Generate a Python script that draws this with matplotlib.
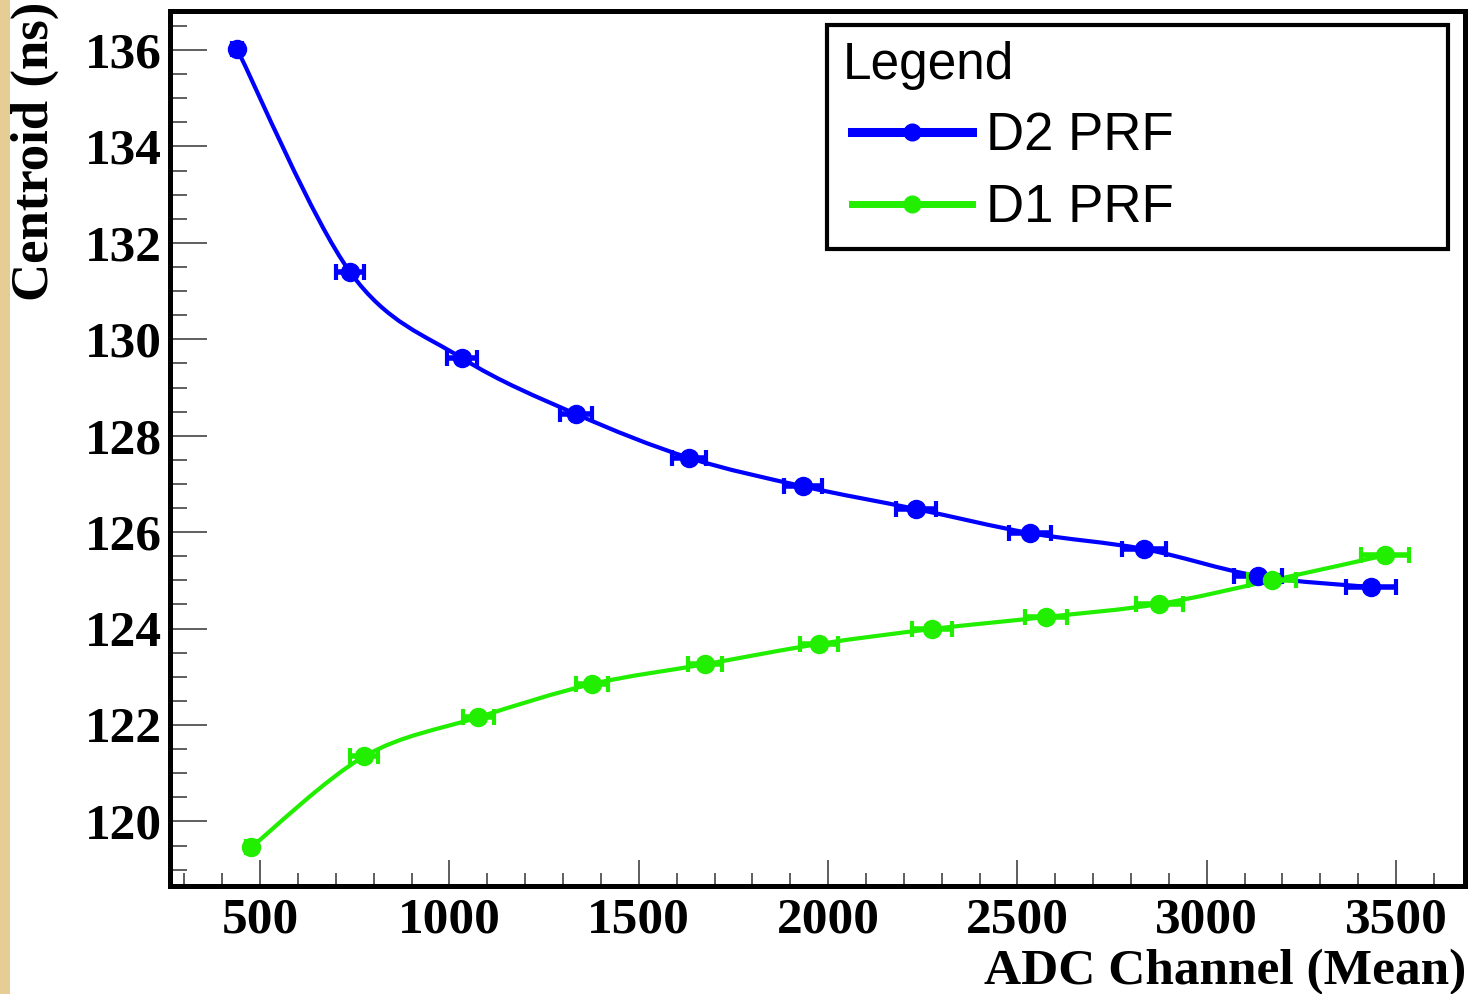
import numpy as np
import matplotlib
matplotlib.use('Agg')
import matplotlib.pyplot as plt
from matplotlib.path import Path
from matplotlib.patches import PathPatch, Rectangle
from matplotlib.ticker import MultipleLocator
from matplotlib.lines import Line2D
from matplotlib.legend_handler import HandlerLine2D

# D2 PRF (blue) and D1 PRF (green): mean ADC channel, centroid, x error
d2_adc = [439, 738, 1033, 1334, 1633, 1934, 2232, 2533, 2834, 3135, 3434]
d2_cen = [136.02, 131.39, 129.61, 128.45, 127.54, 126.95, 126.48, 125.98, 125.65, 125.09, 124.86]
d2_err = [14, 37, 40, 42, 45, 50, 53, 55, 58, 63, 65]

d1_adc = [476, 775, 1076, 1377, 1675, 1976, 2274, 2575, 2874, 3172, 3471]
d1_cen = [119.46, 121.35, 122.16, 122.85, 123.26, 123.68, 123.99, 124.24, 124.51, 125.00, 125.52]
d1_err = [14, 37, 41, 43, 46, 50, 53, 56, 62, 64, 63]

BLUE = '#0000ff'
GREEN = '#22ee00'
serif = ['Liberation Serif', 'DejaVu Serif']


def smooth_path(x, y):
    # Catmull-Rom curve through the points, drawn as cubic Bezier segments
    p = np.column_stack([x, y]).astype(float)
    verts = [p[0]]
    codes = [Path.MOVETO]
    n = len(p)
    for i in range(n - 1):
        p0 = p[i - 1] if i > 0 else p[i]
        p3 = p[i + 2] if i + 2 < n else p[i + 1]
        c1 = p[i] + (p[i + 1] - p0) / 6.0
        c2 = p[i + 1] - (p3 - p[i]) / 6.0
        verts += [c1, c2, p[i + 1]]
        codes += [Path.CURVE4] * 3
    return Path(verts, codes)


fig = plt.figure(figsize=(14.7, 9.94), dpi=100)
fig.patch.set_facecolor('white')
fig.patches.append(Rectangle((0, 0), 10 / 1470, 1, transform=fig.transFigure,
                             facecolor='#e6cd95', edgecolor='none', zorder=0))

ax = fig.add_axes([170 / 1470, 1 - 886 / 994, (1465 - 170) / 1470, (886 - 11) / 994])

for xs, ys, es, col in [(d2_adc, d2_cen, d2_err, BLUE),
                        (d1_adc, d1_cen, d1_err, GREEN)]:
    ax.add_patch(PathPatch(smooth_path(xs, ys), facecolor='none', edgecolor=col,
                           lw=3.0, zorder=2))
    ax.errorbar(xs, ys, xerr=es, fmt='o', color=col, ms=13, elinewidth=4,
                capsize=6, capthick=3, zorder=3)

ax.set_xlim(262, 3682)
ax.set_ylim(118.66, 136.81)

ax.xaxis.set_major_locator(MultipleLocator(500))
ax.xaxis.set_minor_locator(MultipleLocator(100))
ax.yaxis.set_major_locator(MultipleLocator(2))
ax.yaxis.set_minor_locator(MultipleLocator(0.5))

ax.tick_params(axis='both', which='both', direction='in', color='#333333', width=1.1)
ax.tick_params(axis='y', which='major', length=26.5, pad=6)
ax.tick_params(axis='y', which='minor', length=12.5)
ax.tick_params(axis='x', which='major', length=18.5, pad=8)
ax.tick_params(axis='x', which='minor', length=9.5)
for lbl in ax.get_xticklabels() + ax.get_yticklabels():
    lbl.set_family(serif)
    lbl.set_fontweight('bold')
    lbl.set_fontsize(37)

for sp in ax.spines.values():
    sp.set_linewidth(3.6)
    sp.set_color('black')

fig.text(1466 / 1470, 1 - 984 / 994, 'ADC Channel (Mean)', ha='right', va='baseline',
         family=serif, fontweight='bold', fontsize=37)
fig.text(35 / 1470, 1 - 2 / 994, 'Centroid (ns)', rotation=90, ha='center', va='top',
         family=serif, fontweight='bold', fontsize=38)

# legend
handles = [Line2D([], [], color=BLUE, lw=6.5, marker='o', ms=12),
           Line2D([], [], color=GREEN, lw=5, marker='o', ms=12)]
leg = ax.legend(handles, ['D2 PRF', 'D1 PRF'], title='Legend',
                loc='upper left',
                bbox_to_anchor=(827 / 1470, 1 - 245 / 994, (1448 - 827) / 1470, 220 / 994),
                bbox_transform=fig.transFigure, mode='expand',
                prop={'family': 'Liberation Sans', 'size': 38},
                title_fontproperties={'family': 'Liberation Sans', 'size': 37},
                alignment='left', borderpad=0.3, labelspacing=0.41,
                handlelength=2.44, handletextpad=0.28, borderaxespad=0,
                fancybox=False, framealpha=1, edgecolor='black',
                handler_map={Line2D: HandlerLine2D(xpad=0.17, numpoints=1)})
leg.get_frame().set_linewidth(3.0)
leg.set_zorder(5)

fig.savefig('out.png', dpi=100)
